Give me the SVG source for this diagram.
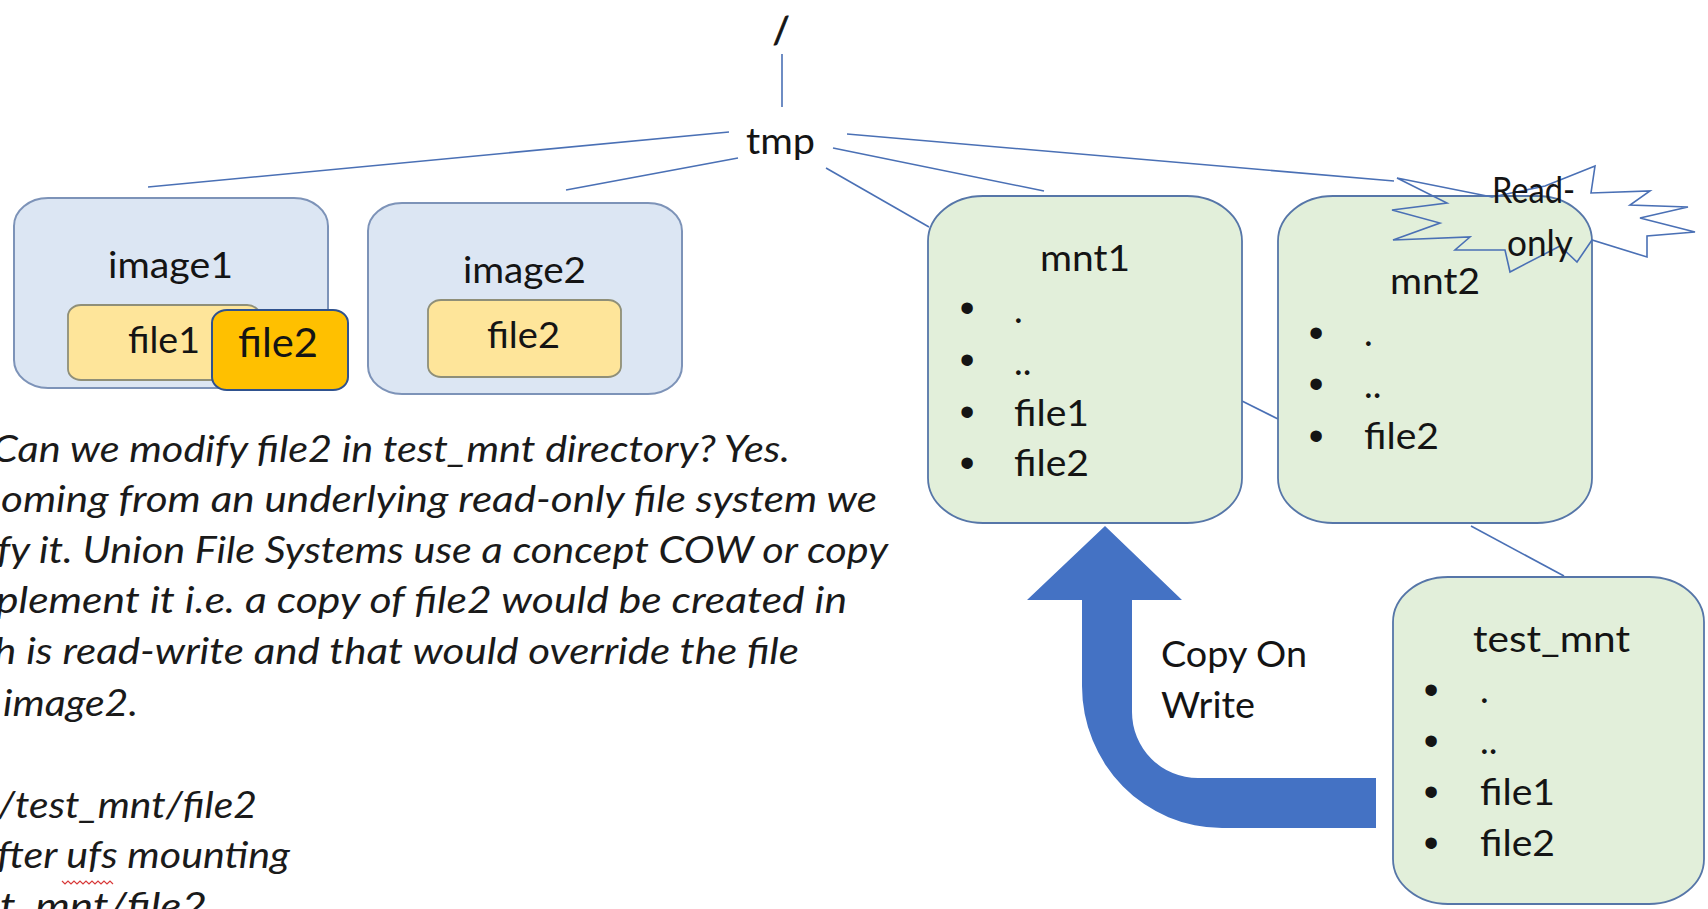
<svg xmlns="http://www.w3.org/2000/svg" width="1708" height="909" viewBox="0 0 1708 909">
  <style>
    .lbl { font-family: Lato, "Liberation Sans", sans-serif; font-size: 37px; fill: #141414; }
    .big { font-size: 41px; }
    .para { font-family: Lato, "Liberation Sans", sans-serif; font-style: italic; font-size: 36px; fill: #1a1a1a; }
    .bul { font-family: "Liberation Sans", sans-serif; font-size: 42px; fill: #141414; text-anchor: middle; }
    .conn { stroke: #4a70b5; stroke-width: 1.6; fill: none; }
    .img { fill: #dce6f3; stroke: #7d93b8; stroke-width: 2; }
    .fileY { fill: #fee59a; stroke: #8f8f78; stroke-width: 1.8; }
    .fileO { fill: #ffc000; stroke: #2f528f; stroke-width: 2; }
    .mnt { fill: #e2efda; stroke: #5676a8; stroke-width: 1.8; }
  </style>

  <rect width="1708" height="909" fill="#ffffff"/>

  <!-- connectors of the directory tree -->
  <g id="connectors">
    <line class="conn" x1="782" y1="54" x2="782" y2="107"/>
    <line class="conn" x1="729" y1="132" x2="148" y2="187"/>
    <line class="conn" x1="738" y1="158" x2="566" y2="190"/>
    <line class="conn" x1="847" y1="134" x2="1394" y2="181"/>
    <line class="conn" x1="833" y1="148" x2="1044" y2="191"/>
    <line class="conn" x1="826" y1="168" x2="929" y2="227"/>
    <line class="conn" x1="1242" y1="401" x2="1278" y2="419"/>
    <line class="conn" x1="1471" y1="526" x2="1564" y2="576"/>
  </g>

  <!-- root and tmp -->
  <g id="root">
    <text class="lbl" x="781" y="43" font-size="50" stroke="#141414" stroke-width="0.8" text-anchor="middle">/</text>
  </g>
  <g id="tmp">
    <text class="lbl" x="746" y="154" textLength="69" lengthAdjust="spacingAndGlyphs">tmp</text>
  </g>

  <!-- image1 with file1 and the copied file2 -->
  <g id="image1">
    <rect class="img" x="14" y="198" width="314" height="190" rx="34" ry="28"/>
    <text class="lbl" x="108" y="278" textLength="125" lengthAdjust="spacingAndGlyphs">image1</text>
    <rect class="fileY" x="68" y="305" width="192" height="75" rx="13" ry="11"/>
    <text class="lbl" x="128" y="353" textLength="72" lengthAdjust="spacingAndGlyphs">file1</text>
  </g>
  <g id="file2-copy">
    <rect class="fileO" x="212" y="310" width="136" height="80" rx="15" ry="13"/>
    <text class="lbl big" x="238" y="357" textLength="80" lengthAdjust="spacingAndGlyphs">file2</text>
  </g>

  <!-- image2 -->
  <g id="image2">
    <rect class="img" x="368" y="203" width="314" height="191" rx="34" ry="28"/>
    <text class="lbl" x="463" y="283" textLength="123" lengthAdjust="spacingAndGlyphs">image2</text>
    <rect class="fileY" x="428" y="300" width="193" height="77" rx="13" ry="11"/>
    <text class="lbl" x="487" y="348" textLength="73" lengthAdjust="spacingAndGlyphs">file2</text>
  </g>

  <!-- mnt1 -->
  <g id="mnt1">
    <rect class="mnt" x="928" y="196" width="314" height="327" rx="55" ry="45"/>
    <text class="lbl" x="1040" y="271" textLength="90" lengthAdjust="spacingAndGlyphs">mnt1</text>
    <text class="bul" x="967" y="322">•</text>
    <text class="bul" x="967" y="374">•</text>
    <text class="bul" x="967" y="426">•</text>
    <text class="bul" x="967" y="477">•</text>
    <text class="lbl" x="1014" y="323">.</text>
    <text class="lbl" x="1014" y="375">..</text>
    <text class="lbl" x="1014" y="426" textLength="75" lengthAdjust="spacingAndGlyphs">file1</text>
    <text class="lbl" x="1014" y="476" textLength="75" lengthAdjust="spacingAndGlyphs">file2</text>
  </g>

  <!-- mnt2 -->
  <g id="mnt2">
    <rect class="mnt" x="1278" y="196" width="314" height="327" rx="55" ry="45"/>
    <text class="lbl" x="1390" y="294" textLength="90" lengthAdjust="spacingAndGlyphs">mnt2</text>
    <text class="bul" x="1316" y="347">•</text>
    <text class="bul" x="1316" y="398">•</text>
    <text class="bul" x="1316" y="450">•</text>
    <text class="lbl" x="1364" y="346">.</text>
    <text class="lbl" x="1364" y="398">..</text>
    <text class="lbl" x="1364" y="449" textLength="75" lengthAdjust="spacingAndGlyphs">file2</text>
  </g>

  <!-- read-only burst on mnt2 -->
  <g id="read-only">
    <polygon fill="none" stroke="#4a70b5" stroke-width="1.6" stroke-linejoin="miter"
      points="1397,178 1492,197 1545,186 1595,166 1591,193 1650,191 1630,205 1688,207 1640,218 1695,232 1647,236 1647,257 1592,240 1577,262 1560,246 1510,272 1505,250 1455,250 1470,237 1393,240 1440,223 1392,210 1447,203"/>
    <text class="lbl" x="1492" y="203" font-size="35" textLength="83" lengthAdjust="spacingAndGlyphs">Read-</text>
    <text class="lbl" x="1507" y="256" font-size="35" textLength="66" lengthAdjust="spacingAndGlyphs">only</text>
  </g>

  <!-- test_mnt -->
  <g id="test_mnt">
    <rect class="mnt" x="1393" y="577" width="311" height="327" rx="55" ry="45"/>
    <text class="lbl" x="1473" y="652" textLength="157" lengthAdjust="spacingAndGlyphs">test_mnt</text>
    <text class="bul" x="1431" y="704">•</text>
    <text class="bul" x="1431" y="755">•</text>
    <text class="bul" x="1431" y="806">•</text>
    <text class="bul" x="1431" y="857">•</text>
    <text class="lbl" x="1480" y="703">.</text>
    <text class="lbl" x="1480" y="754">..</text>
    <text class="lbl" x="1480" y="805" textLength="75" lengthAdjust="spacingAndGlyphs">file1</text>
    <text class="lbl" x="1480" y="856" textLength="75" lengthAdjust="spacingAndGlyphs">file2</text>
  </g>

  <!-- copy-on-write bent arrow from test_mnt up to mnt1 -->
  <g id="cow-arrow">
    <path fill="#4472c4"
      d="M1105,526 L1182,600 L1132,600 L1132,712 A66,66 0 0 0 1198,778 L1376,778 L1376,828 L1222,828 A140,142 0 0 1 1082,686 L1082,600 L1027,600 Z"/>
    <text class="lbl" x="1161" y="667" textLength="146" lengthAdjust="spacingAndGlyphs">Copy On</text>
    <text class="lbl" x="1161" y="718" textLength="94" lengthAdjust="spacingAndGlyphs">Write</text>
  </g>

  <!-- explanatory note, clipped at the left and bottom edges -->
  <g id="note">
    <text class="para" x="-8" y="462" textLength="798" lengthAdjust="spacingAndGlyphs">Can we modify file2 in test_mnt directory? Yes.</text>
    <text class="para" x="1" y="512" textLength="876" lengthAdjust="spacingAndGlyphs">oming from an underlying read-only file system we</text>
    <text class="para" x="-3" y="563" textLength="891" lengthAdjust="spacingAndGlyphs">fy it. Union File Systems use a concept COW or copy</text>
    <text class="para" x="-4" y="613" textLength="851" lengthAdjust="spacingAndGlyphs">plement it i.e. a copy of file2 would be created in</text>
    <text class="para" x="-6" y="664" textLength="805" lengthAdjust="spacingAndGlyphs">h is read-write and that would override the file</text>
    <text class="para" x="3" y="716" textLength="135" lengthAdjust="spacingAndGlyphs">image2.</text>
    <text class="para" x="-2" y="818" textLength="259" lengthAdjust="spacingAndGlyphs">/test_mnt/file2</text>
    <text class="para" x="-3" y="868" textLength="293" lengthAdjust="spacingAndGlyphs">fter ufs mounting</text>
    <path d="M62,881 l3,3 l3,-3 l3,3 l3,-3 l3,3 l3,-3 l3,3 l3,-3 l3,3 l3,-3 l3,3 l3,-3 l3,3 l3,-3 l3,3 l3,-3 l3,3" fill="none" stroke="#d83a3a" stroke-width="1.2"/>
    <text class="para" x="0" y="919" textLength="207" lengthAdjust="spacingAndGlyphs">t_mnt/file2</text>
  </g>
</svg>
